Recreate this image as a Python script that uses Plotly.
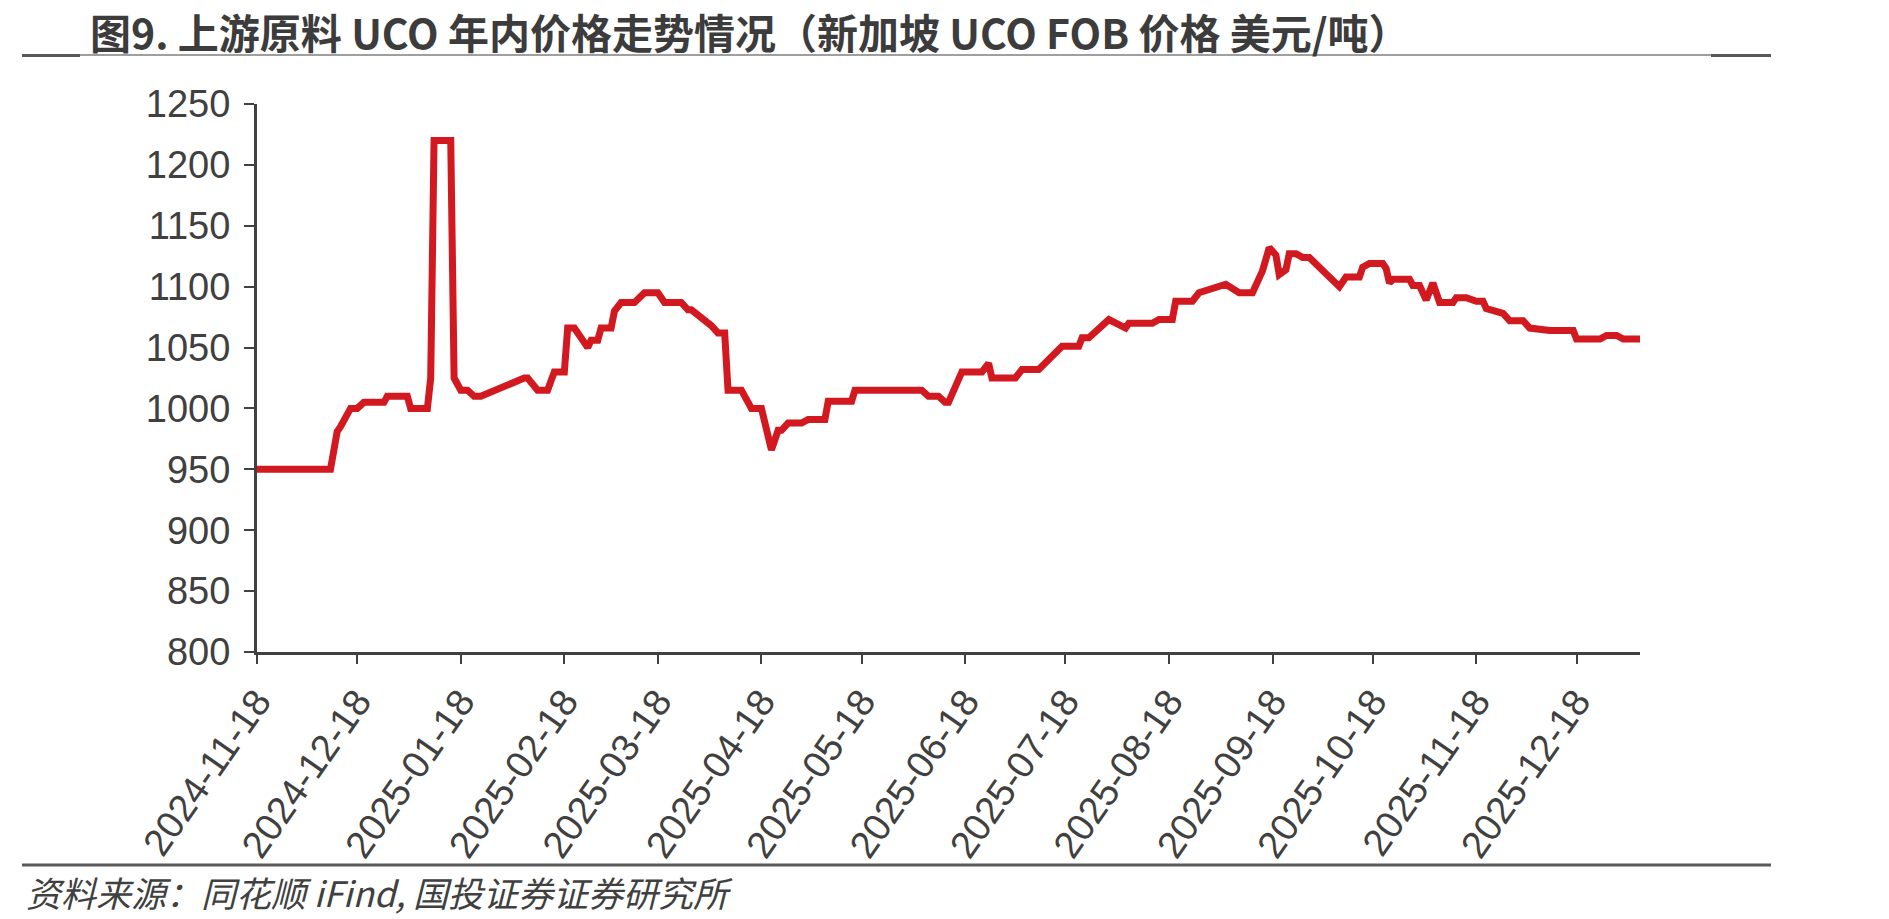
import plotly.graph_objects as go

# ---- data ----
dates = [
    "2024-11-18", "2024-12-10", "2024-12-12", "2024-12-13", "2024-12-16", "2024-12-18",
    "2024-12-20", "2024-12-26", "2024-12-27", "2025-01-02", "2025-01-03", "2025-01-08",
    "2025-01-09", "2025-01-10", "2025-01-15", "2025-01-16", "2025-01-18", "2025-01-20",
    "2025-01-22", "2025-01-24", "2025-02-06", "2025-02-07", "2025-02-10", "2025-02-13",
    "2025-02-15", "2025-02-18", "2025-02-19", "2025-02-21", "2025-02-25", "2025-02-26",
    "2025-02-28", "2025-03-01", "2025-03-04", "2025-03-05", "2025-03-07", "2025-03-11",
    "2025-03-14", "2025-03-18", "2025-03-20", "2025-03-25", "2025-03-27", "2025-03-28",
    "2025-04-03", "2025-04-04", "2025-04-05", "2025-04-07", "2025-04-08", "2025-04-12",
    "2025-04-15", "2025-04-18", "2025-04-21", "2025-04-23", "2025-04-24", "2025-04-26",
    "2025-04-30", "2025-05-02", "2025-05-07", "2025-05-08", "2025-05-15", "2025-05-16",
    "2025-06-05", "2025-06-07", "2025-06-10", "2025-06-12", "2025-06-13", "2025-06-17",
    "2025-06-23", "2025-06-25", "2025-06-26", "2025-07-03", "2025-07-05", "2025-07-10",
    "2025-07-14", "2025-07-17", "2025-07-22", "2025-07-23", "2025-07-25", "2025-07-27",
    "2025-07-29", "2025-07-31", "2025-08-05", "2025-08-06", "2025-08-13", "2025-08-15",
    "2025-08-19", "2025-08-20", "2025-08-25", "2025-08-27", "2025-09-03", "2025-09-04",
    "2025-09-08", "2025-09-12", "2025-09-15", "2025-09-17", "2025-09-19", "2025-09-20",
    "2025-09-22", "2025-09-23", "2025-09-25", "2025-09-27", "2025-09-29", "2025-10-08",
    "2025-10-10", "2025-10-14", "2025-10-15", "2025-10-17", "2025-10-21", "2025-10-22",
    "2025-10-23", "2025-10-24", "2025-10-29", "2025-10-30", "2025-11-01", "2025-11-03",
    "2025-11-05", "2025-11-07", "2025-11-11", "2025-11-12", "2025-11-15", "2025-11-18",
    "2025-11-20", "2025-11-21", "2025-11-26", "2025-11-28", "2025-12-02", "2025-12-04",
    "2025-12-10", "2025-12-17", "2025-12-18", "2025-12-25", "2025-12-27", "2025-12-30",
    "2026-01-01", "2026-01-06",
]
prices = [
    950, 950, 981, 985, 1000, 1000,
    1005, 1005, 1010, 1010, 1000, 1000,
    1025, 1220, 1220, 1025, 1015, 1015,
    1010, 1010, 1025, 1025, 1015, 1015,
    1030, 1030, 1066, 1066, 1050, 1056,
    1056, 1066, 1066, 1080, 1087, 1087,
    1095, 1095, 1087, 1087, 1081, 1081,
    1068, 1065, 1062, 1062, 1015, 1015,
    1000, 1000, 966, 982, 982, 988,
    988, 991, 991, 1006, 1006, 1015,
    1015, 1010, 1010, 1005, 1005, 1030,
    1030, 1037, 1025, 1025, 1032, 1032,
    1042, 1051, 1051, 1058, 1058, 1064,
    1068, 1073, 1066, 1070, 1070, 1073,
    1073, 1088, 1088, 1095, 1102, 1102,
    1095, 1095, 1113, 1132, 1126, 1110,
    1114, 1127, 1127, 1124, 1124, 1100,
    1108, 1108, 1116, 1119, 1119, 1115,
    1103, 1106, 1106, 1101, 1101, 1089,
    1103, 1087, 1087, 1091, 1091, 1088,
    1088, 1082, 1078, 1072, 1072, 1066,
    1064, 1064, 1057, 1057, 1060, 1060,
    1057, 1057,
]
tick_dates = [
    "2024-11-18", "2024-12-18", "2025-01-18", "2025-02-18", "2025-03-18", "2025-04-18",
    "2025-05-18", "2025-06-18", "2025-07-18", "2025-08-18", "2025-09-18", "2025-10-18",
    "2025-11-18", "2025-12-18",
]
y_ticks = [800, 850, 900, 950, 1000, 1050, 1100, 1150, 1200, 1250]

title_text = "图9. 上游原料 UCO 年内价格走势情况（新加坡 UCO FOB 价格 美元/吨）"
source_text = "资料来源：同花顺 iFind, 国投证券证券研究所"

# ---- layout geometry (pixels) ----
W, H = 1889, 919
L, R, T, B = 257, 1640, 104, 652
pw, ph = R - L, B - T

def px(x):
    return (x - L) / pw

def py(y):
    return (B - y) / ph

AX = "#404040"
RED = "#D2191F"
TICKFONT = dict(family="Liberation Sans, Arial, sans-serif", size=38, color=AX)

fig = go.Figure()
fig.add_trace(go.Scatter(
    x=dates, y=prices, mode="lines",
    line=dict(color=RED, width=7),
    hoverinfo="skip", showlegend=False,
))

fig.update_layout(
    width=W, height=H,
    margin=dict(l=L, r=W - R, t=T, b=H - B, pad=0),
    paper_bgcolor="white", plot_bgcolor="white",
    xaxis=dict(
        type="date",
        range=["2024-11-18", "2026-01-06"],
        tickmode="array",
        tickvals=tick_dates,
        ticktext=tick_dates,
        tickangle=-55,
        ticks="outside", ticklen=9, tickwidth=2, tickcolor=AX,
        showline=True, linecolor=AX, linewidth=3,
        showgrid=False, zeroline=False,
        tickfont=TICKFONT,
    ),
    yaxis=dict(
        range=[800, 1250],
        tickmode="array", tickvals=y_ticks,
        ticks="outside", ticklen=10, tickwidth=2, tickcolor=AX,
        showline=True, linecolor=AX, linewidth=3,
        showgrid=False, zeroline=False,
        tickfont=TICKFONT,
        ticklabelstandoff=6,
    ),
)

# title
fig.add_annotation(
    text="<b>" + title_text + "</b>",
    xref="paper", yref="paper", x=px(88), y=py(31.5),
    xanchor="left", yanchor="middle", showarrow=False,
    font=dict(family="Noto Sans CJK SC, sans-serif", size=41, color="#3c3c3c"),
)
# source
fig.add_annotation(
    text="<i>" + source_text + "</i>",
    xref="paper", yref="paper", x=px(24), y=py(891),
    xanchor="left", yanchor="middle", showarrow=False,
    font=dict(family="Noto Sans CJK SC, sans-serif", size=35, color="#404040"),
)

# decorative rules
shapes = [
    dict(type="line", xref="paper", yref="paper", x0=px(22), x1=px(1771), y0=py(55), y1=py(55),
         line=dict(color="#7f7f7f", width=1.5)),
    dict(type="line", xref="paper", yref="paper", x0=px(22), x1=px(80), y0=py(55.5), y1=py(55.5),
         line=dict(color="#595959", width=3)),
    dict(type="line", xref="paper", yref="paper", x0=px(1711), x1=px(1771), y0=py(55.5), y1=py(55.5),
         line=dict(color="#595959", width=3)),
    dict(type="line", xref="paper", yref="paper", x0=px(22), x1=px(1771), y0=py(865), y1=py(865),
         line=dict(color="#595959", width=3)),
]
fig.update_layout(shapes=shapes)

fig.write_html("out.html")
